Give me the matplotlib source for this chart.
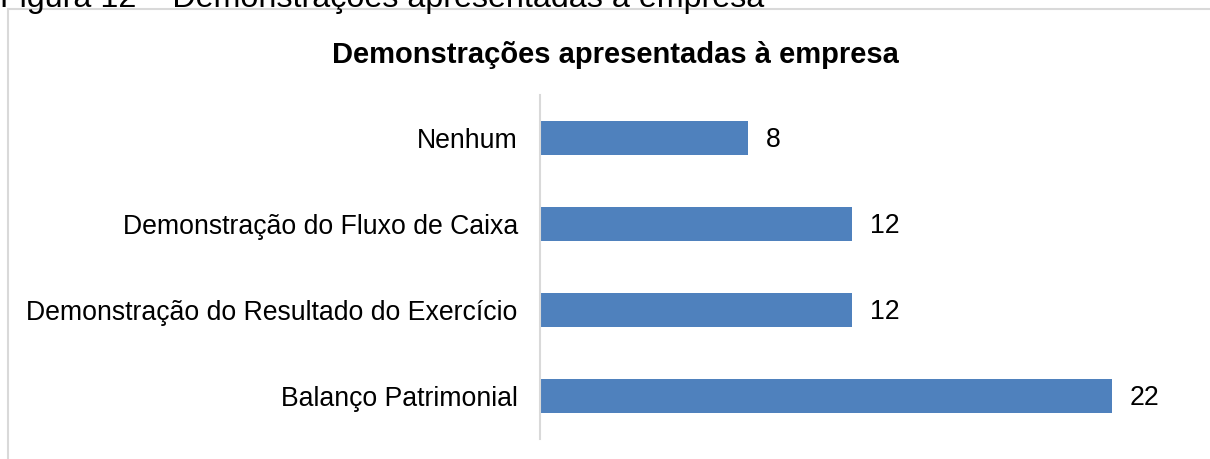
import matplotlib

matplotlib.use("Agg")

import matplotlib.pyplot as plt
from matplotlib import patches
import numpy as np

plt.rcParams["font.family"] = ["Liberation Sans", "DejaVu Sans"]

BAR = "#4F81BD"
GRID = "#D9D9D9"
TXT = "#000000"

categories = [
    "Nenhum",
    "Demonstração do Fluxo de Caixa",
    "Demonstração do Resultado do Exercício",
    "Balanço Patrimonial",
]
counts = [8, 12, 12, 22]

caption = "Figura 12 – Demonstrações apresentadas à empresa"
title = "Demonstrações apresentadas à empresa"

W, H = 1210, 459
fig = plt.figure(figsize=(W / 100, H / 100), dpi=100, facecolor="white")

# chart area border (runs off the right and bottom edge)
fig.patches.append(
    patches.Rectangle((7.5 / W, -0.1), 1.2, 1 - 9.5 / H + 0.1, transform=fig.transFigure,
                      fill=False, edgecolor=GRID, linewidth=1.5)
)

# document caption, cut off at the top of the page crop
fig.text(0.0, 1 - 7 / H, caption, ha="left", va="baseline", fontsize=23.2, color=TXT)

fig.text(615 / W, 1 - 63 / H, title, ha="center", va="baseline", fontsize=21,
         fontweight="bold", color=TXT)

ax = fig.add_axes([540 / W, 1 - 439 / H, 650 / W, 344 / H])
y_pos = np.arange(len(categories))
bars = ax.barh(y_pos, counts, height=0.4, color=BAR)
ax.set_xlim(0, 25)
ax.set_ylim(len(categories) - 0.5, -0.5)
ax.set_yticks(y_pos)
ax.set_yticklabels(categories, fontsize=19.2, color=TXT)
ax.tick_params(axis="y", length=0, pad=16)
ax.set_xticks([])
for name, spine in ax.spines.items():
    spine.set_visible(name == "left")
ax.spines["left"].set_color(GRID)
ax.spines["left"].set_linewidth(1.5)
ax.set_facecolor("none")

for bar, value in zip(bars, counts):
    ax.annotate(f"{value}", (bar.get_width(), bar.get_y() + bar.get_height() / 2),
                xytext=(13, -1.5), textcoords="offset points", ha="left", va="center",
                fontsize=19.2, color=TXT)

fig.savefig("out.png", dpi=100, facecolor="white")
